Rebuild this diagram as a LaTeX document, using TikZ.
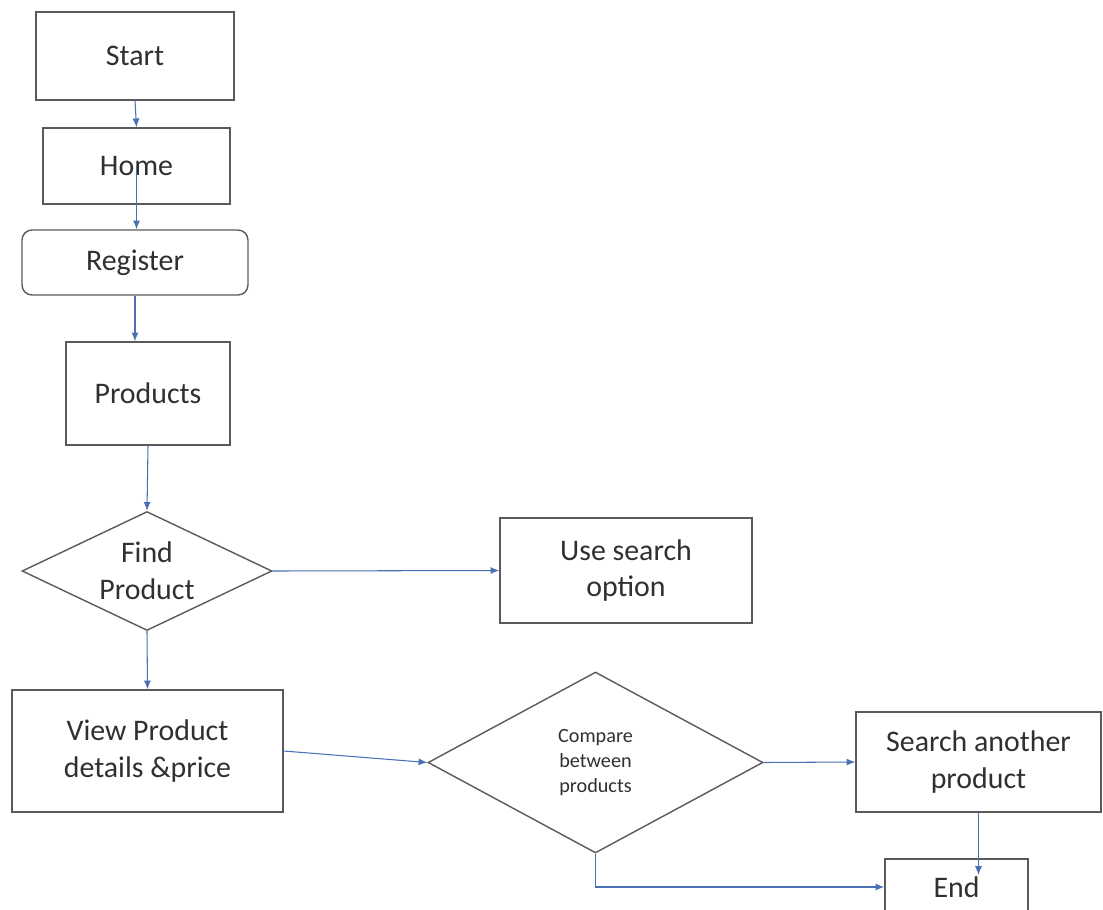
\documentclass[tikz,border=0pt]{standalone}
\usepackage{fontspec}
\setmainfont{Carlito}
\usetikzlibrary{shapes.geometric,arrows.meta}
\definecolor{linegray}{HTML}{5A5A5A}
\definecolor{textgray}{HTML}{303030}
\definecolor{arrowblue}{HTML}{4A6FB5}

\begin{document}
\begin{tikzpicture}[x=0.02cm,y=-0.02cm,
  box/.style={draw=linegray,line width=0.8pt,text=textgray,font=\fontsize{17}{21}\selectfont,align=center,inner sep=0pt},
  decision/.style={box,diamond,inner sep=0pt,shape aspect=2.1},
  flow/.style={draw=arrowblue,line width=0.6pt,-{Latex[length=5pt,width=4pt]}}]
\useasboundingbox (0,0) rectangle (1103,910);
\node [box,minimum width=3.96cm,minimum height=1.76cm] (start) at (135,56) {Start};
\node [box,minimum width=3.74cm,minimum height=1.52cm] (home) at (136.5,166) {Home};
\node [box,rounded corners=0.2cm,minimum width=4.52cm,minimum height=1.3cm] (register) at (135,262.5) {Register};
\node [box,minimum width=3.28cm,minimum height=2.06cm] (products) at (148,393.5) {Products};
\node [decision,minimum width=5cm,minimum height=2.38cm] (find) at (147,571) {Find\\Product};
\node [box,minimum width=5.04cm,minimum height=2.1cm] (search) at (626,570.5) {Use search\\option};
\node [box,minimum width=5.42cm,minimum height=2.44cm] (view) at (147.5,751) {View Product\\details \&price};
\node [decision,shape aspect=1.85,minimum width=6.7cm,minimum height=3.62cm,font=\fontsize{11.5}{14}\selectfont] (compare) at (595.5,762.5) {Compare\\between\\products};
\node [box,minimum width=4.9cm,minimum height=2cm] (another) at (978.5,762) {Search another\\product};
\node [box,minimum width=2.86cm,minimum height=1.12cm] (end) at (956.5,887) {End};
\coordinate (endin) at (978.5,875);
\draw [flow] (start.south) -- (home.north);
\draw [flow] (home.center) -- (home.center |- register.north);
\draw [flow] (register.south) -- (register.south |- products.north);
\draw [flow] (products.south) -- (find.north);
\draw [flow] (find.east) -- (search.west);
\draw [flow] (find.south) -- (view.north);
\draw [flow] (view.east) -- (compare.west);
\draw [flow] (compare.east) -- (another.west);
\draw [flow] (another.south) -- (endin);
\draw [flow] (compare.south) |- (end.west);
\end{tikzpicture}
\end{document}
